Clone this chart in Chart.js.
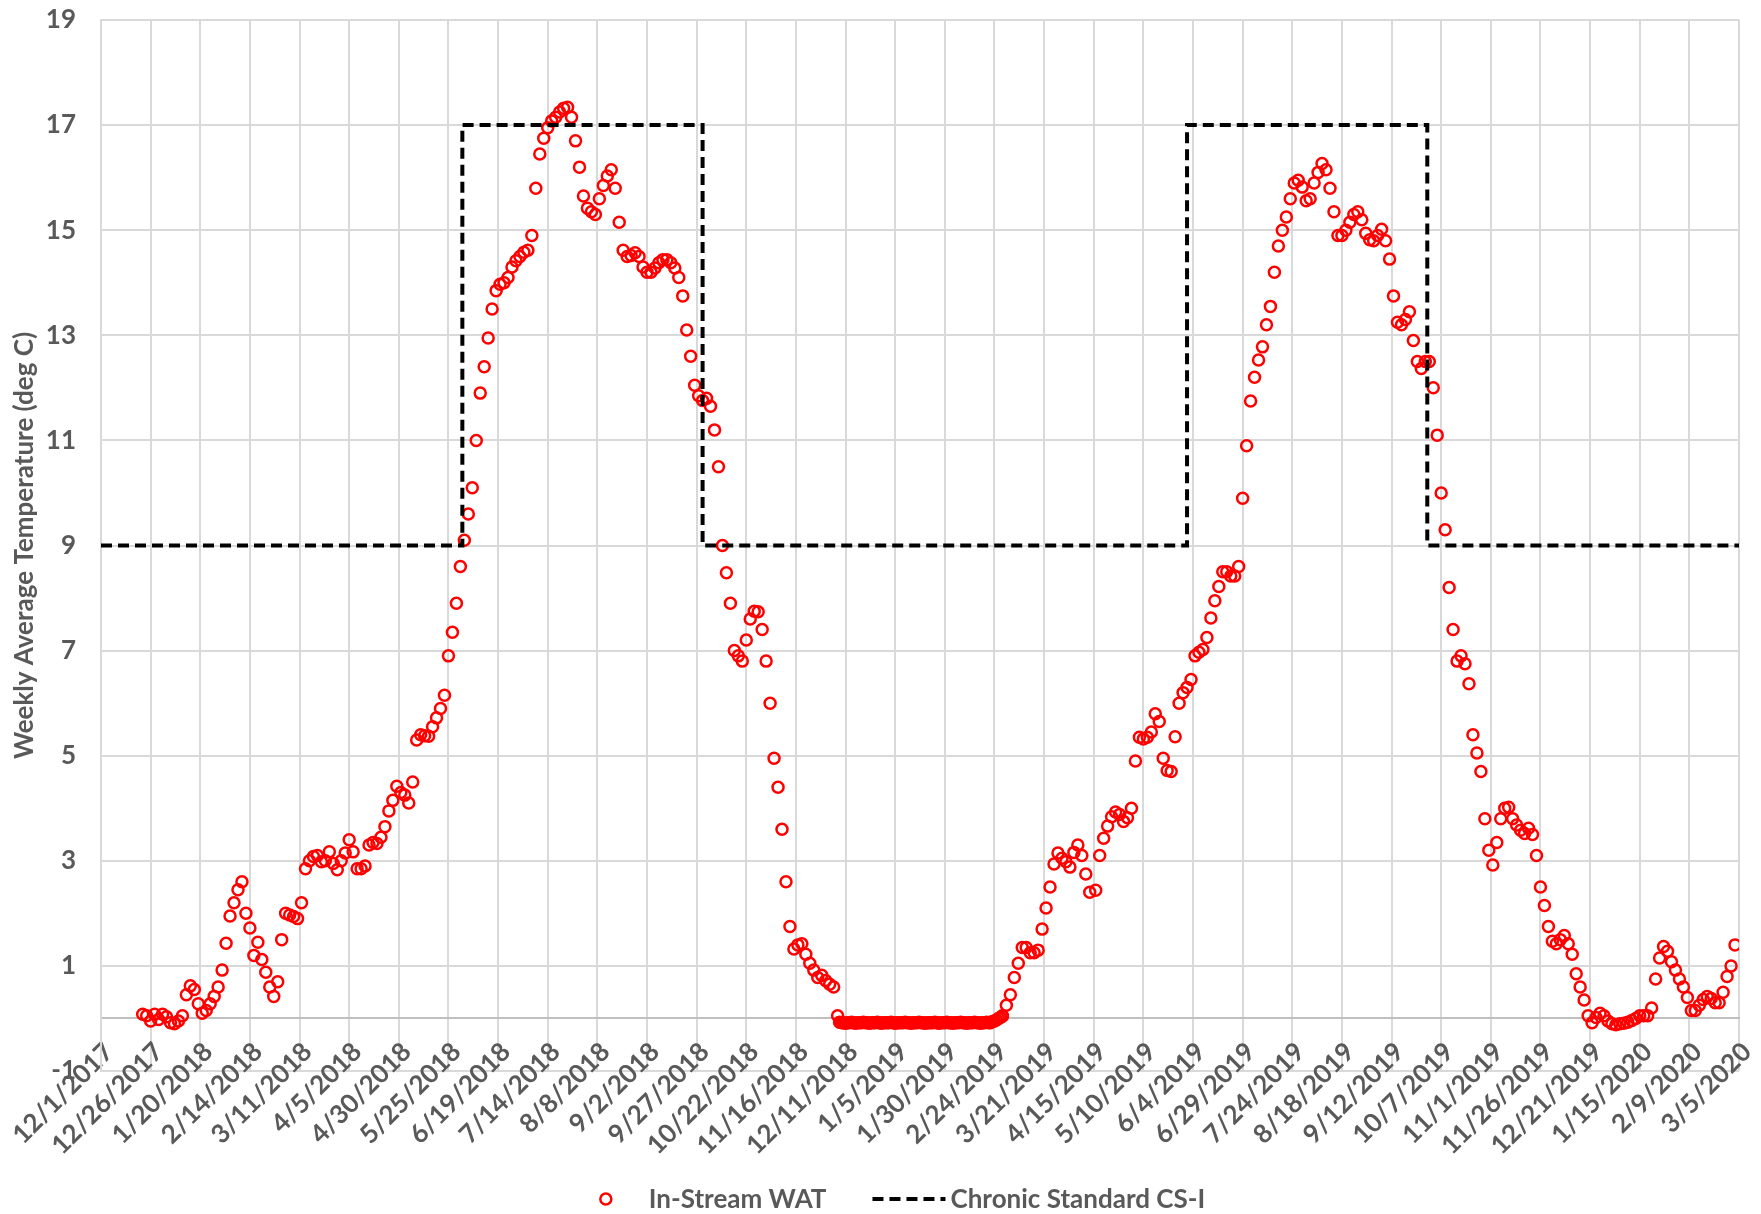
<!DOCTYPE html>
<html>
<head>
<meta charset="utf-8">
<script src="https://cdn.jsdelivr.net/npm/chart.js@4.4.1/dist/chart.umd.min.js"></script>
<style>
  html, body { margin: 0; padding: 0; background: #fff; }
  canvas { display: block; }
</style>
</head>
<body>
<canvas id="tempChart" width="1761" height="1214"></canvas>
<script>
// x axis is counted in days from the first tick date
const axisStart = '2017-12-01';
const axisEnd = '2020-03-05';
const tickStepDays = 25;
const yMin = -1, yMax = 19, yStep = 2;

// In-Stream WAT (deg C), split into stretches; each has a start date and a day step

const watWinter18Start = '2017-12-22', watWinter18Step = 2;
const watWinter18 = [
  0.08, 0.05, -0.05, 0.08, -0.02, 0.08, 0.03, -0.08, -0.1, -0.05,
  0.05, 0.45, 0.62, 0.55, 0.28, 0.1, 0.15, 0.28, 0.42, 0.6,
  0.92, 1.43, 1.95, 2.2, 2.45, 2.6, 2.0, 1.72, 1.2, 1.45,
  1.12, 0.88, 0.6, 0.42, 0.7, 1.5, 2.0, 1.97, 1.94, 1.9,
  2.2, 2.85, 3.0, 3.08, 3.1, 2.98, 3.0, 3.17, 2.95, 2.83,
  3.0, 3.15, 3.4, 3.17, 2.85, 2.85, 2.9, 3.3, 3.35, 3.33,
  3.45, 3.65, 3.95, 4.15, 4.42, 4.3, 4.25, 4.1, 4.5, 5.3,
  5.4, 5.38, 5.37, 5.55, 5.72, 5.9, 6.15, 6.9, 7.35, 7.9
];

const watSummer18Start = '2018-05-31', watSummer18Step = 2;
const watSummer18 = [
  8.6, 9.1, 9.6, 10.1, 11.0, 11.9, 12.4, 12.95, 13.5, 13.85,
  13.97, 14.0, 14.1, 14.3, 14.42, 14.5, 14.58, 14.62, 14.9, 15.8,
  16.45, 16.75, 16.95, 17.08, 17.15, 17.25, 17.32, 17.34, 17.15, 16.7,
  16.2, 15.65, 15.42, 15.35, 15.3, 15.6, 15.85, 16.03, 16.15, 15.8,
  15.15, 14.62, 14.5, 14.52, 14.57, 14.5, 14.3, 14.2, 14.2, 14.28,
  14.38, 14.44, 14.44, 14.38, 14.28, 14.1, 13.75, 13.1, 12.6, 12.05,
  11.85, 11.76, 11.8, 11.65, 11.2, 10.5, 9.0, 8.48, 7.9, 7.0,
  6.9, 6.8, 7.2, 7.6, 7.75, 7.74, 7.4, 6.8, 6.0, 4.95
];

const watFall18Start = '2018-11-07', watFall18Step = 2;
const watFall18 = [
  4.4, 3.6, 2.6, 1.75, 1.32, 1.4, 1.42, 1.22, 1.05, 0.92,
  0.78, 0.82, 0.72, 0.65, 0.6, 0.05
];

// frozen stretch, daily readings sitting just under zero
const watFreeze19Start = '2018-12-08', watFreeze19Step = 1;
const watFreeze19 = [
  -0.07, -0.08, -0.08, -0.09, -0.08, -0.08, -0.07, -0.08, -0.09, -0.08,
  -0.08, -0.08, -0.07, -0.08, -0.08, -0.09, -0.08, -0.08, -0.08, -0.07,
  -0.08, -0.09, -0.08, -0.08, -0.08, -0.08, -0.07, -0.08, -0.09, -0.08,
  -0.08, -0.08, -0.08, -0.07, -0.08, -0.08, -0.09, -0.08, -0.08, -0.08,
  -0.07, -0.08, -0.08, -0.09, -0.08, -0.08, -0.08, -0.08, -0.07, -0.08,
  -0.09, -0.08, -0.08, -0.08, -0.07, -0.08, -0.08, -0.09, -0.08, -0.08,
  -0.08, -0.07, -0.08, -0.08, -0.09, -0.08, -0.08, -0.08, -0.07, -0.08,
  -0.08, -0.09, -0.08, -0.08, -0.07, -0.08, -0.08, -0.06, -0.05, -0.03,
  0.0, 0.02, 0.04
];

const watSpring19Start = '2019-02-28', watSpring19Step = 2;
const watSpring19 = [
  0.05, 0.25, 0.45, 0.78, 1.05, 1.35, 1.35, 1.25, 1.25, 1.3,
  1.7, 2.1, 2.5, 2.94, 3.15, 3.05, 2.98, 2.88, 3.16, 3.3,
  3.1, 2.75, 2.4
];

const watSummer19Start = '2019-04-16', watSummer19Step = 2;
const watSummer19 = [
  2.44, 3.1, 3.43, 3.66, 3.84, 3.93, 3.88, 3.75, 3.82, 4.0,
  4.9, 5.35, 5.32, 5.35, 5.45, 5.8, 5.65, 4.95, 4.72, 4.7,
  5.36, 6.0, 6.2, 6.3, 6.45, 6.9, 6.97, 7.02, 7.25, 7.62,
  7.95, 8.22, 8.5, 8.5, 8.42, 8.42, 8.6, 9.9, 10.9, 11.75,
  12.2, 12.53, 12.78, 13.2, 13.55, 14.2, 14.7, 15.0, 15.25, 15.6,
  15.9, 15.95, 15.82, 15.56, 15.6, 15.9, 16.1, 16.27, 16.15, 15.8,
  15.35, 14.9, 14.9, 15.0, 15.15, 15.3, 15.35, 15.2, 14.94, 14.82,
  14.8, 14.9, 15.02, 14.8, 14.45, 13.75, 13.25, 13.2, 13.3, 13.45
];

const watWinter20Start = '2019-09-23', watWinter20Step = 2;
const watWinter20 = [
  12.9, 12.5, 12.37, 12.5, 12.5, 12.0, 11.1, 10.0, 9.3, 8.2,
  7.4, 6.8, 6.9, 6.75, 6.37, 5.4, 5.05, 4.7, 3.8, 3.2,
  2.92, 3.35, 3.8, 4.0, 4.02, 3.8, 3.68, 3.58, 3.52, 3.62,
  3.5, 3.1, 2.5, 2.15, 1.75, 1.47, 1.42, 1.5, 1.58, 1.42,
  1.22, 0.85, 0.6, 0.35, 0.05, -0.08, 0.02, 0.1, 0.05, -0.05,
  -0.1, -0.12, -0.1, -0.09, -0.07, -0.04, 0.0, 0.05, 0.05, 0.05,
  0.2, 0.75, 1.15, 1.37, 1.28, 1.08, 0.92, 0.75, 0.6, 0.4,
  0.15, 0.15, 0.25, 0.36, 0.42, 0.38, 0.3, 0.3, 0.5, 0.8,
  1.0, 1.4
];

// Chronic Standard CS-I: 9 deg C, 17 deg C from June 1 to Sept 30
const csDates = ['2017-12-01', '2018-06-01', '2018-06-01', '2018-09-30', '2018-09-30',
                 '2019-06-01', '2019-06-01', '2019-09-30', '2019-09-30', '2020-03-05'];
const csValues = [9, 9, 17, 17, 9, 9, 17, 17, 9, 9];

const DAY_MS = 86400000;
const TEXT_COLOR = '#595959';
const GRID_COLOR = '#d9d9d9';
const FONT = 'Lato';

function dayOf(dateStr) {
  return Math.round((Date.parse(dateStr) - Date.parse(axisStart)) / DAY_MS);
}

function formatDay(day) {
  const d = new Date(Date.parse(axisStart) + day * DAY_MS);
  return (d.getUTCMonth() + 1) + '/' + d.getUTCDate() + '/' + d.getUTCFullYear();
}

function stretch(startDate, step, values) {
  const first = dayOf(startDate);
  return values.map((v, i) => ({ x: first + i * step, y: v }));
}

const watPoints = [].concat(
  stretch(watWinter18Start, watWinter18Step, watWinter18),
  stretch(watSummer18Start, watSummer18Step, watSummer18),
  stretch(watFall18Start, watFall18Step, watFall18),
  stretch(watFreeze19Start, watFreeze19Step, watFreeze19),
  stretch(watSpring19Start, watSpring19Step, watSpring19),
  stretch(watSummer19Start, watSummer19Step, watSummer19),
  stretch(watWinter20Start, watWinter20Step, watWinter20)
);

const csPoints = csDates.map((d, i) => ({ x: dayOf(d), y: csValues[i] }));

// legend under the axis labels, drawn like the Excel one
const bottomLegend = {
  id: 'bottomLegend',
  afterDraw(chart) {
    const ctx = chart.ctx;
    const sets = chart.data.datasets;
    const y = chart.chartArea.bottom + 128;
    ctx.save();
    ctx.font = 'bold 26px ' + FONT;
    ctx.textBaseline = 'middle';
    const w1 = ctx.measureText(sets[0].label).width;
    const w2 = ctx.measureText(sets[1].label).width;
    const total = 49 + w1 + 46 + 78 + w2;
    let x = chart.width / 2 + 22 - total / 2;

    // circle marker
    ctx.strokeStyle = sets[0].borderColor;
    ctx.lineWidth = 2.5;
    ctx.beginPath();
    ctx.arc(x + 6, y, 5.5, 0, Math.PI * 2);
    ctx.stroke();
    ctx.fillStyle = TEXT_COLOR;
    ctx.fillText(sets[0].label, x + 49, y + 1);
    x += 49 + w1 + 46;

    // dashed line marker
    ctx.strokeStyle = sets[1].borderColor;
    ctx.lineWidth = 4;
    ctx.setLineDash(sets[1].borderDash);
    ctx.beginPath();
    ctx.moveTo(x, y);
    ctx.lineTo(x + 73, y);
    ctx.stroke();
    ctx.setLineDash([]);
    ctx.fillText(sets[1].label, x + 78, y + 1);
    ctx.restore();
  }
};

const ctx = document.getElementById('tempChart').getContext('2d');
new Chart(ctx, {
  type: 'scatter',
  data: {
    datasets: [
      {
        label: 'In-Stream WAT',
        data: watPoints,
        borderColor: '#ff0000',
        backgroundColor: 'rgba(0,0,0,0)',
        pointRadius: 5.5,
        pointBorderWidth: 2.5,
        pointHoverRadius: 5.5,
        order: 2
      },
      {
        label: 'Chronic Standard CS-I',
        data: csPoints,
        showLine: true,
        borderColor: '#000000',
        backgroundColor: '#000000',
        borderWidth: 4,
        borderDash: [11, 6],
        pointRadius: 0,
        pointHoverRadius: 0,
        order: 1
      }
    ]
  },
  options: {
    responsive: false,
    animation: false,
    layout: { padding: { top: 20, right: 22, bottom: 143, left: 0 } },
    plugins: {
      legend: { display: false },
      tooltip: { enabled: false }
    },
    scales: {
      x: {
        type: 'linear',
        position: { y: 0 },
        min: 0,
        max: dayOf(axisEnd),
        ticks: {
          stepSize: tickStepDays,
          autoSkip: false,
          minRotation: 45,
          maxRotation: 45,
          padding: 18,
          labelOffset: 8,
          color: TEXT_COLOR,
          font: { family: FONT, size: 26, weight: 'bold' },
          callback: v => formatDay(v)
        },
        grid: { color: GRID_COLOR, lineWidth: 2, drawTicks: false },
        border: { color: '#bfbfbf', width: 2 },
        afterFit: scale => { scale.paddingLeft = 0; scale.paddingRight = 0; }
      },
      y: {
        min: yMin,
        max: yMax,
        ticks: {
          stepSize: yStep,
          padding: 25,
          color: TEXT_COLOR,
          font: { family: FONT, size: 26, weight: 'bold' }
        },
        grid: { color: GRID_COLOR, lineWidth: 2, drawTicks: false },
        border: { color: GRID_COLOR, width: 2 },
        title: {
          display: true,
          text: 'Weekly Average Temperature (deg C)',
          color: TEXT_COLOR,
          font: { family: FONT, size: 26, weight: 'bold' },
          padding: { top: 9, bottom: 0 }
        },
        afterFit: scale => {
          scale.width = 101;
          scale.paddingTop = 0;
          scale.paddingBottom = 0;
        }
      }
    }
  },
  plugins: [bottomLegend]
});
</script>
</body>
</html>
